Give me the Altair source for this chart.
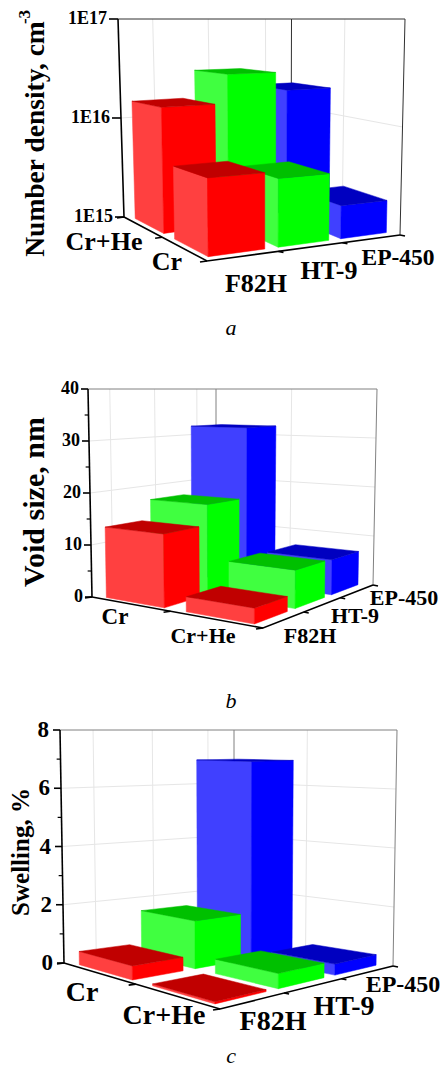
import math
import altair as alt
import pandas as pd

# ---------- values ----------
materials = ["F82H", "HT-9", "EP-450"]
conditions = ["Cr", "Cr+He"]
density_cr = [4.6e15, 4.0e15, 2.0e15]
density_crhe = [1.5e16, 2.9e16, 1.9e16]
void_cr = [13.5, 17.5, 32.0]
void_crhe = [2.7, 7.0, 6.8]
swell_cr = [0.45, 1.6, 6.9]
swell_crhe = [0.06, 0.47, 0.36]
colors = {
    "F82H": ("#ff4040", "#ff0000", "#c00000"),
    "HT-9": ("#40ff40", "#00ff00", "#00c000"),
    "EP-450": ("#4040ff", "#0000ff", "#0000c0"),
}

# ---------- layout of the three boxes (page pixels) ----------
W, H = 432, 1062
panels = [
    dict(F=(207, 261), R=(400, 235), L=(124, 217), B=(291, 193),
         Ft=(205, 19), Rt=(405, 19), Lt=(118, 19), Bt=(291.5, 19),
         near="Cr", vals={"Cr": density_cr, "Cr+He": density_crhe},
         log=True, vmin=15, vmax=17, major=[1e15, 1e16, 1e17], major_text=["1E15", "1E16", "1E17"], minor=[],
         tick_size=18, tick_dx=-11, tick_len=9, frame="#303030",
         left_fr=[0.2, 0.52, 0.85], right_fr=[0.47],
         title="Number density, cm", title_pos=(36, 139), title_size=27.5,
         cats=[("Cr+He", 104, 242, 26), ("Cr", 167, 262, 26), ("F82H", 256, 284, 26), ("HT-9", 329, 271, 26), ("EP-450", 398, 258, 23.5)],
         caption=("a", 231, 328)),
    dict(F=(263, 628), R=(373, 585), L=(92, 597), B=(216, 565),
         Ft=(263, 389), Rt=(377, 389), Lt=(88, 389), Bt=(216, 389),
         near="Cr+He", vals={"Cr": void_cr, "Cr+He": void_crhe},
         log=False, vmin=0, vmax=40, major=[0, 10, 20, 30, 40], major_text=["0", "10", "20", "30", "40"], minor=[5, 15, 25, 35],
         tick_size=18, tick_dx=-9, tick_len=7, frame="#808080",
         left_fr=[0.17, 0.52, 0.85], right_fr=[0.47],
         title="Void size, nm", title_pos=(35, 502), title_size=30,
         cats=[("Cr", 115, 617, 23), ("Cr+He", 203, 636, 22), ("F82H", 310, 636, 22), ("HT-9", 355, 616, 22), ("EP-450", 404, 598, 22)],
         caption=("b", 231, 701)),
    dict(F=(220, 1009), R=(393, 966), L=(64, 963), B=(234, 940),
         Ft=(220, 730), Rt=(397, 730), Lt=(60, 730), Bt=(234, 730),
         near="Cr+He", vals={"Cr": swell_cr, "Cr+He": swell_crhe},
         log=False, vmin=0, vmax=8, major=[0, 2, 4, 6, 8], major_text=["0", "2", "4", "6", "8"], minor=[1, 3, 5, 7],
         tick_size=23, tick_dx=-11, tick_len=7, frame="#808080",
         left_fr=[0.19, 0.53, 0.85], right_fr=[0.45],
         title="Swelling, %", title_pos=(21, 852), title_size=25,
         cats=[("Cr", 82, 993, 28), ("Cr+He", 164, 1016, 28), ("F82H", 273, 1022, 28), ("HT-9", 344, 1007, 28), ("EP-450", 403, 985, 24)],
         caption=("c", 231, 1056)),
]
BAR_W, BAR_D = 0.8, 0.74
PERSP = 0.85


def warp(u):
    return u / (u + PERSP * (1 - u))


def bil(p, s, t, a, b, c, d):
    return tuple((1 - s) * (1 - t) * p[a][i] + s * (1 - t) * p[b][i] + (1 - s) * t * p[c][i] + s * t * p[d][i] for i in (0, 1))


def pt(p, s, t, v):
    f = bil(p, s, t, "F", "R", "L", "B")
    u = bil(p, s, t, "Ft", "Rt", "Lt", "Bt")
    return (f[0] + (u[0] - f[0]) * v - 8, f[1] + (u[1] - f[1]) * v - 8)


def norm(p, val):
    x = math.log10(val) if p["log"] else val
    return (x - p["vmin"]) / (p["vmax"] - p["vmin"])


polys, lines, ticks_text, titles, cats, caps = [], [], [], [], [], []
count = {"n": 0}


def add_poly(points, color):
    count["n"] += 1
    gid = count["n"]
    for x, y in points:
        polys.append(dict(g=gid, n=len(polys), x=x, y=y, c=color))


def add_line(points, color, width):
    count["n"] += 1
    gid = count["n"]
    for x, y in points:
        lines.append(dict(g=gid, n=len(lines), x=x, y=y, c=color, w=width))


for pi, p in enumerate(panels):
    # walls
    grid = "#e6e6e6"
    for val in p["major"][1:-1]:
        v = norm(p, val)
        add_line([pt(p, 0, 1, v), pt(p, 1, 1, v), pt(p, 1, 0, v)], grid, 1)
    for fr in p["left_fr"]:
        add_line([pt(p, fr, 1, 0), pt(p, fr, 1, 1)], grid, 1)
    for fr in p["right_fr"]:
        add_line([pt(p, 1, 1 - fr, 0), pt(p, 1, 1 - fr, 1)], grid, 1)
    # frame
    add_line([pt(p, 0, 1, 1), pt(p, 1, 1, 1), pt(p, 1, 0, 1), pt(p, 1, 0, 0)], p["frame"], 1)
    add_line([pt(p, 1, 1, 1), pt(p, 1, 1, 0)], p["frame"], 1)

    # bars, back to front
    order = [c for c in conditions if c != p["near"]] + [p["near"]]
    for row, cond in enumerate(order):
        tc = (1 - row + 0.5) / 2
        t0, t1 = warp(tc - BAR_D / 4), warp(tc + BAR_D / 4)
        for mi in [2, 1, 0]:
            m = materials[mi]
            light, full, dark = colors[m]
            sc = (mi + 0.5) / 3
            s0, s1 = warp(sc - BAR_W / 6), warp(sc + BAR_W / 6)
            v = norm(p, p["vals"][cond][mi])
            add_poly([pt(p, s0, t1, 0), pt(p, s0, t0, 0), pt(p, s0, t0, v), pt(p, s0, t1, v)], light)
            add_poly([pt(p, s0, t0, 0), pt(p, s1, t0, 0), pt(p, s1, t0, v), pt(p, s0, t0, v)], full)
            add_poly([pt(p, s0, t0, v), pt(p, s1, t0, v), pt(p, s1, t1, v), pt(p, s0, t1, v)], dark)

    # black axes
    add_line([pt(p, 0, 1, 1), pt(p, 0, 1, 0)], "#000000", 1.6)
    add_line([pt(p, 0, 1, 0), pt(p, 0, 0, 0), pt(p, 1, 0, 0)], "#000000", 1.6)
    for val, txt in zip(p["major"], p["major_text"]):
        x, y = pt(p, 0, 1, norm(p, val))
        add_line([(x, y), (x - p["tick_len"], y)], "#000000", 1.6)
        ticks_text.append(dict(x=x + p["tick_dx"], y=y, t=txt, s=p["tick_size"]))
    for val in p["minor"]:
        x, y = pt(p, 0, 1, norm(p, val))
        add_line([(x, y), (x - p["tick_len"] * 0.55, y)], "#000000", 1.2)
    for fr in [1 / 3, 2 / 3, 1.0]:
        x, y = pt(p, warp(fr), 0, 0)
        add_line([(x, y), (x + 5, y + 1)], "#000000", 1.6)
    for fr in [0.0, 0.5, 1.0]:
        x, y = pt(p, 0, warp(fr), 0)
        add_line([(x, y), (x - 7, y + 1)], "#000000", 1.6)

    titles.append(dict(x=p["title_pos"][0] - 8, y=p["title_pos"][1] - 8, t=p["title"], s=p["title_size"]))
    for name, x, y, size in p["cats"]:
        cats.append(dict(x=x - 8, y=y - 8, t=name, s=size))
    caps.append(dict(x=p["caption"][1] - 8, y=p["caption"][2] - 8, t=p["caption"][0]))

X = alt.X("x:Q", scale=alt.Scale(domain=[0, W], range=[0, W], nice=False, zero=False), axis=None)
Y = alt.Y("y:Q", scale=alt.Scale(domain=[0, H], range=[0, H], nice=False, zero=False), axis=None)
FONT = "Liberation Serif"

poly_layer = alt.Chart(pd.DataFrame(polys)).mark_line(strokeWidth=0.5, interpolate="linear-closed", clip=False).encode(
    x=X, y=Y, detail="g:N", order="n:Q",
    fill=alt.Fill("c:N", scale=None), stroke=alt.Stroke("c:N", scale=None))
line_layer = alt.Chart(pd.DataFrame(lines)).mark_line().encode(
    x=X, y=Y, detail="g:N", order="n:Q",
    stroke=alt.Stroke("c:N", scale=None), strokeWidth=alt.StrokeWidth("w:Q", scale=None))
tick_layer = alt.Chart(pd.DataFrame(ticks_text)).mark_text(font=FONT, fontWeight="bold", align="right", baseline="middle", color="black").encode(
    x=X, y=Y, text="t:N", size=alt.Size("s:Q", scale=None))
cat_layer = alt.Chart(pd.DataFrame(cats)).mark_text(font=FONT, fontWeight="bold", align="center", baseline="middle", color="black").encode(
    x=X, y=Y, text="t:N", size=alt.Size("s:Q", scale=None))
title_layer = alt.Chart(pd.DataFrame(titles)).mark_text(font=FONT, fontWeight="bold", align="center", baseline="middle", angle=270, color="black").encode(
    x=X, y=Y, text="t:N", size=alt.Size("s:Q", scale=None))
sup_layer = alt.Chart(pd.DataFrame([dict(x=17, y=9, t="-3", s=17)])).mark_text(font=FONT, fontWeight="bold", align="center", baseline="middle", angle=270, color="black").encode(
    x=X, y=Y, text="t:N", size=alt.Size("s:Q", scale=None))
cap_layer = alt.Chart(pd.DataFrame(caps)).mark_text(font=FONT, fontStyle="italic", fontSize=22, align="center", baseline="middle", color="black").encode(
    x=X, y=Y, text="t:N")

chart = alt.layer(line_layer, poly_layer, tick_layer, cat_layer, title_layer, sup_layer, cap_layer).resolve_scale(
    fill="independent", stroke="independent"
).properties(
    width=W, height=H, padding=0, autosize=alt.AutoSizeParams(type="none"), background="white"
).configure_view(stroke=None)

chart.save("out.html", embed_options={"renderer": "svg", "actions": False})
